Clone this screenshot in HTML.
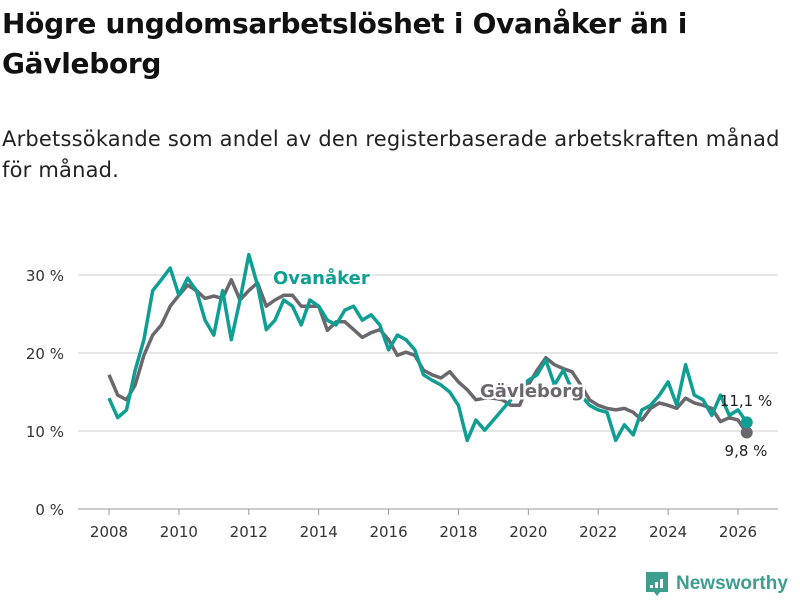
<!DOCTYPE html>
<html><head><meta charset="utf-8"><style>
body{margin:0;width:800px;height:600px;background:#fff;font-family:"DejaVu Sans","Liberation Sans",sans-serif;overflow:hidden;position:relative}
#title{position:absolute;left:2px;top:4px;font-size:28px;font-weight:bold;line-height:40px;color:#111;letter-spacing:-0.3px}
#sub{position:absolute;left:2px;top:124px;font-size:21px;line-height:31px;color:#222;letter-spacing:0.2px}
svg{position:absolute;left:0;top:0;font-family:"DejaVu Sans","Liberation Sans",sans-serif}
</style></head><body>
<div id="title">Högre ungdomsarbetslöshet i Ovanåker än i<br>Gävleborg</div>
<div id="sub">Arbetssökande som andel av den registerbaserade arbetskraften månad<br>för månad.</div>
<svg id="chart" width="800" height="600"></svg>
<script>
const startYear = 2008, step = 0.25;
const gavleborg = [17.2,14.6,14,15.9,19.7,22.3,23.6,26,27.4,28.7,28,27,27.3,27,29.4,26.8,28,29,26,26.8,27.4,27.4,26,26,26,22.9,24,24,23,22,22.6,23,21.7,19.7,20.1,19.7,17.8,17.2,16.8,17.6,16.3,15.3,14,14.2,14.2,14,13.3,13.3,15.9,17.8,19.4,18.5,18,17.6,15.9,14,13.3,12.9,12.7,12.9,12.4,11.4,12.9,13.6,13.3,12.9,14.2,13.6,13.3,12.9,11.2,11.7,11.4,9.8];
const ovanaker = [14.2,11.7,12.7,17.8,21.7,28,29.4,30.9,27.4,29.6,28,24.2,22.3,28,21.7,26.8,32.6,28.7,23,24.2,26.8,26,23.6,26.8,26,24.2,23.6,25.5,26,24.2,24.9,23.6,20.4,22.3,21.7,20.4,17.2,16.5,15.9,15,13.3,8.8,11.4,10.1,11.4,12.7,14,15.3,16.5,17.2,19.1,15.9,17.8,15.3,14.6,13.3,12.7,12.4,8.8,10.8,9.5,12.7,13.3,14.6,16.3,13.3,18.5,14.6,14,12,14.6,12,12.7,11.1];
const yTicks = [0,10,20,30];
const xTicks = [2008,2010,2012,2014,2016,2018,2020,2022,2024,2026];
const NS="http://www.w3.org/2000/svg", svg=document.getElementById('chart');
const xs = t => 109 + (t-2008)*(738-109)/18;
const ys = v => 509 - v*7.8;
function mk(tag, attrs, parent){const e=document.createElementNS(NS,tag);for(const k in attrs)e.setAttribute(k,attrs[k]);(parent||svg).appendChild(e);return e;}
yTicks.forEach(v=>{
  const g=mk('line',{x1:78,x2:778,y1:ys(v),y2:ys(v),stroke:v===0?'#bbb':'#ddd','stroke-width':1.5});
  
  
  const t=mk('text',{x:64,y:ys(v)+6,'text-anchor':'end','font-size':15,fill:'#333'});
  t.textContent=v+' %';
  
  
});
xTicks.forEach(y=>{
  const l=mk('line',{x1:xs(y),x2:xs(y),y1:509,y2:515,stroke:'#999'});
  
  
  const t=mk('text',{x:xs(y),y:537,'text-anchor':'middle','font-size':15,fill:'#333'});
  t.textContent=y;
  
  
});
function series(arr,color,name){
  const d=arr.map((v,i)=>(i?'L':'M')+xs(startYear+i*step).toFixed(1)+','+ys(v).toFixed(1)).join('');
  const p=mk('path',{d:d,fill:'none',stroke:color,'stroke-width':3.5,'stroke-linejoin':'round'});
  
  
  const i=arr.length-1;
  const c=mk('circle',{cx:xs(startYear+i*step),cy:ys(arr[i]),r:6,fill:color});
  
  
}
series(gavleborg,'#6b686d','gavleborg');
series(ovanaker,'#0f9e93','ovanaker');
function lab(txt,x,y,color,name,bold,anchor){
  const t=mk('text',{x:x,y:y,'font-size':bold?18:15,'font-weight':bold?'bold':'normal',fill:color,stroke:'#fff','stroke-width':bold?5:0,'paint-order':'stroke','text-anchor':anchor||'start'});
  t.textContent=txt;
  
  
}
lab('Ovanåker',273,284,'#0f9e93','ovanaker-label',true);
lab('Gävleborg',480,397,'#6b686d','gavleborg-label',true);
lab('11,1 %',746,406,'#222','ovanaker-end-value',false,'middle');
lab('9,8 %',746,456,'#222','gavleborg-end-value',false,'middle');
const lg=mk('g',{});


mk('path',{d:'M646,572h22v20h-8l-3,4l-3,-4h-8z',fill:'#3d9e90'},lg);
[[650,3],[655,6],[660,9]].forEach(b=>mk('rect',{x:b[0],y:588-b[1],width:3,height:b[1],fill:'#fff'},lg));
const lt=mk('text',{x:676,y:589,'font-size':19,'font-weight':'bold',fill:'#3d9e90','font-family':'Liberation Sans, sans-serif'},lg);
lt.textContent='Newsworthy';
</script>
</body></html>
